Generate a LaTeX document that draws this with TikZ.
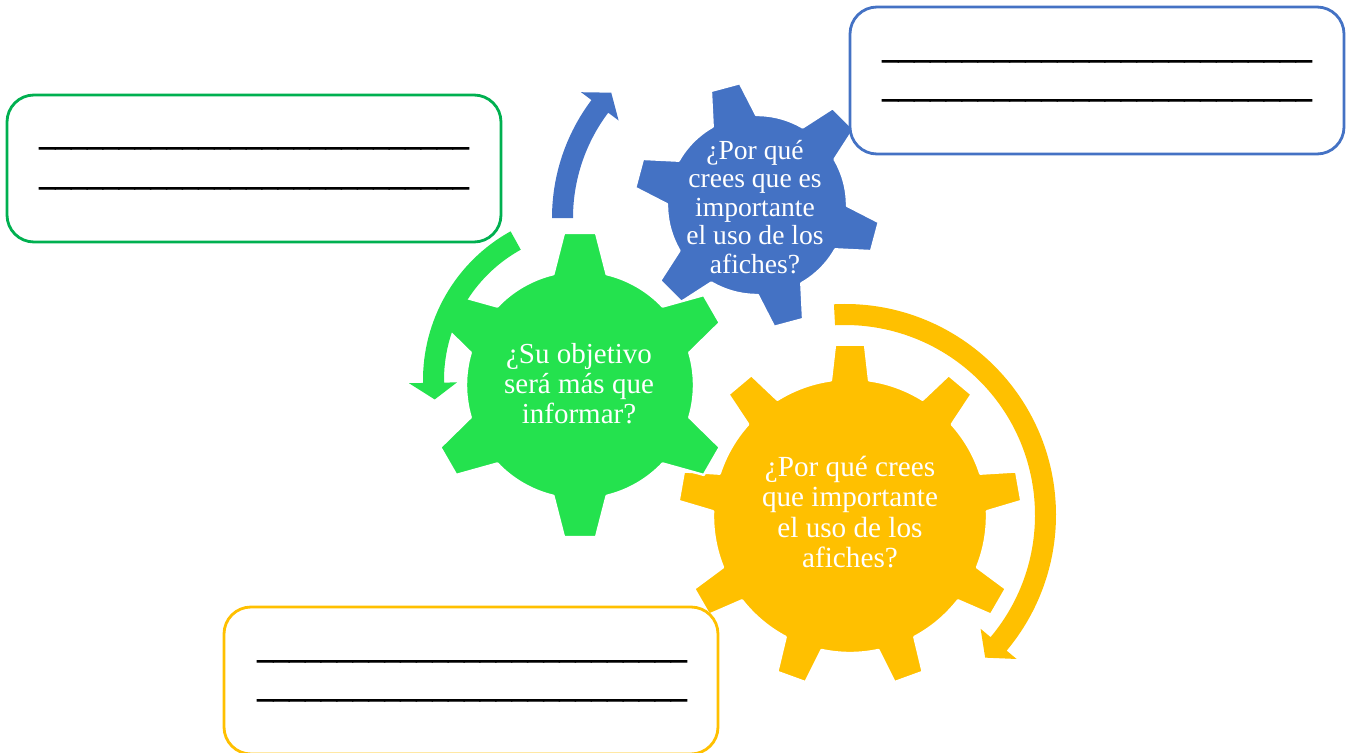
\documentclass[tikz,border=0pt]{standalone}
\usepackage{fontspec}
\setmainfont{Liberation Serif}
\newfontface\blankfont[FakeBold=3]{Liberation Serif}
\definecolor{gearG}{RGB}{36,226,78}
\definecolor{gearB}{RGB}{68,114,196}
\definecolor{gearY}{RGB}{255,192,0}
\definecolor{boxG}{RGB}{0,176,80}
\newcommand{\myblanks}{\_\_\_\_\_\_\_\_\_\_\_\_\_\_\_\_\_\_\_\_\_\_\_\_\_\_\_}
% #1 colour, #2 centre, #3 inner r, #4 outer r, #5 half-angle at base, #6 half-angle at tip, #7 teeth, #8 first tooth angle
\newcommand{\mkgear}[8]{%
  \pgfmathsetmacro{\gstep}{360/#7}%
  \pgfmathtruncatemacro{\glast}{#7-1}%
  \filldraw[fill=#1, draw=white, line width=1.2pt, line join=round, shift={#2}]
    ({#8-#5}:#3)
    \foreach \k [evaluate=\k as \ga using {#8+\k*\gstep}] in {0,...,\glast} {
      -- ({\ga-#5}:#3) -- ({\ga-#6}:#4) -- ({\ga+#6}:#4) -- ({\ga+#5}:#3)
      arc[start angle={\ga+#5}, end angle={\ga+\gstep-#5}, radius=#3]
    } -- cycle;%
}
\tikzset{
  geartext/.style={text=white, align=center, inner sep=0pt},
  answerbox/.style={rounded corners=13.5pt, fill=white, line width=1.4pt,
    minimum width=247pt, minimum height=73.5pt, inner sep=0pt},
  blankline/.style={anchor=base, inner sep=0pt, font=\blankfont\fontsize{15.9}{18}\selectfont}
}
\begin{document}
\begin{tikzpicture}[x=0.5pt, y=0.5pt]
\useasboundingbox (0,0) rectangle (1356,752);
% gears
\mkgear{gearY}{(850,236)}{137}{172}{8}{5}{9}{90}
\mkgear{gearB}{(757,547)}{90}{123}{14.5}{7}{6}{105}
\mkgear{gearG}{(580,367)}{114}{153}{13.5}{6}{6}{90}
% circular arrows
\fill[gearB, shift={(748,534)}] (180:196) arc[start angle=180, end angle=143, radius=196]
  -- (143:209) -- (137.5:185.5) -- (143:162) -- (143:175)
  arc[start angle=143, end angle=180, radius=175] -- cycle;
\fill[gearG, shift={(593,372)}] (119:170) arc[start angle=119, end angle=181, radius=170]
  -- (181:184) -- (187:159.5) -- (181:136) -- (181:149)
  arc[start angle=181, end angle=119, radius=149] -- cycle;
\fill[gearY, shift={(845,237)}] (93:211) arc[start angle=93, end angle=-40, radius=211]
  -- (-40:224) -- (-45.5:200) -- (-40:177) -- (-40:190)
  arc[start angle=-40, end angle=93, radius=190] -- cycle;
% gear texts
\node[geartext, font=\fontsize{14.6}{15.2}\selectfont] (ytext) at (850,240)
  {¿Por qué crees\\que importante\\el uso de los\\afiches?};
\node[geartext, font=\fontsize{13.8}{14.25}\selectfont] (btext) at (755,545)
  {¿Por qué\\crees que es\\importante\\el uso de los\\afiches?};
\node[geartext, font=\fontsize{14.5}{15}\selectfont] (gtext) at (579,368)
  {¿Su objetivo\\será más que\\informar?};
% answer boxes
\node[answerbox, draw=boxG] (gbox) at (254,583.5) {};
\node[answerbox, draw=gearB] (bbox) at (1097,671.5) {};
\node[answerbox, draw=gearY] (ybox) at (471,71.5) {};
\node[blankline] (gline1) at (254,607) {\myblanks};
\node[blankline] (gline2) at (254,567) {\myblanks};
\node[blankline] (bline1) at (1097,694) {\myblanks};
\node[blankline] (bline2) at (1097,655) {\myblanks};
\node[blankline] (yline1) at (472,94) {\myblanks};
\node[blankline] (yline2) at (472,55) {\myblanks};
\end{tikzpicture}
\end{document}
